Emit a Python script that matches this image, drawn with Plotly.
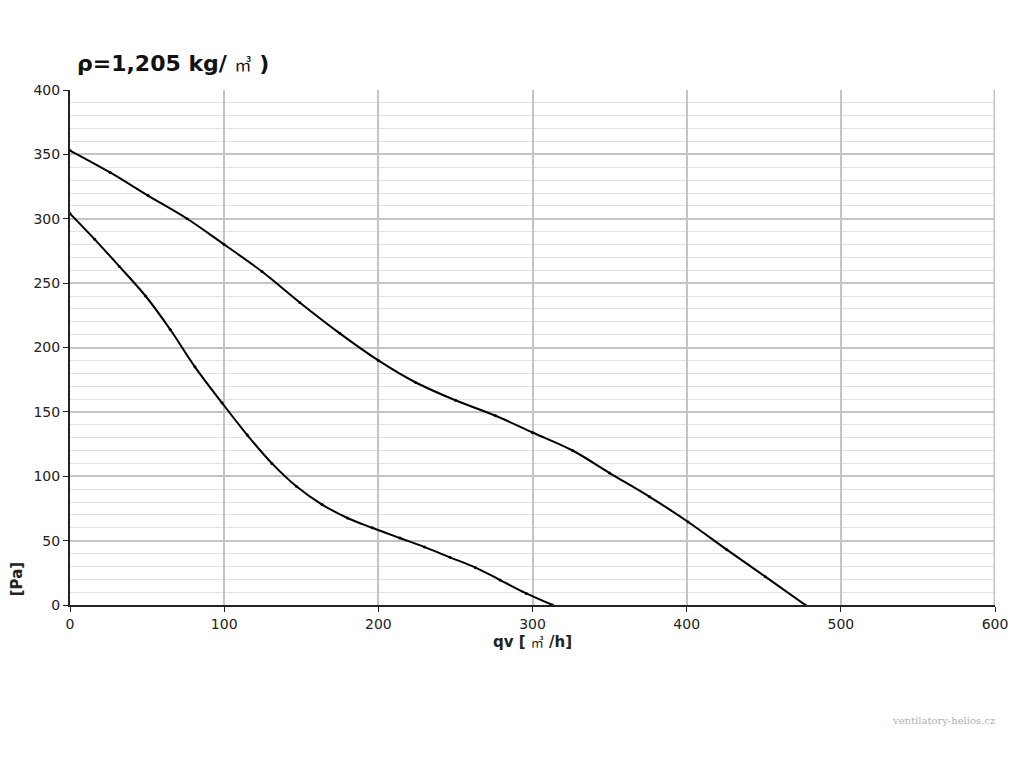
import plotly.graph_objects as go

# Upper curve (qv m3/h, Pa)
upper_q = [0, 26, 50.6, 76, 100, 124.5, 149, 175, 200, 224, 250, 276, 300, 326, 350, 376, 401, 426, 451, 477]
upper_p = [353, 336, 318, 300, 280, 259, 235, 211, 190, 173, 159, 147, 134, 120, 102.5, 84, 64.5, 43, 22, 0]

# Lower curve
lower_q = [0, 16, 32, 49, 65, 81, 98.6, 115, 131, 147, 163.5, 180, 196, 214, 230, 246.5, 263, 279, 296, 313]
lower_p = [304, 284, 263, 240, 214, 185, 157, 132, 110, 92, 78, 67.6, 60, 52, 45, 37, 29, 19.4, 9, 0]

x_ticks = [0, 100, 200, 300, 400, 500, 600]
y_ticks = [0, 50, 100, 150, 200, 250, 300, 350, 400]

fig = go.Figure()
for q, p in [(upper_q, upper_p), (lower_q, lower_p)]:
    fig.add_trace(go.Scatter(
        x=q, y=p, mode="lines+markers",
        line=dict(color="black", width=2, shape="spline", smoothing=1.0),
        marker=dict(color="black", size=3),
        showlegend=False, hoverinfo="skip"))

font_family = "DejaVu Sans, Verdana, sans-serif"
m3 = "<span style='font-family:Noto Sans CJK JP;font-weight:normal;font-size:{}px'>㎥</span>"

fig.update_layout(
    width=1024, height=768,
    margin=dict(l=62, r=37, t=82, b=171),
    paper_bgcolor="white", plot_bgcolor="white",
    font=dict(family=font_family, size=14, color="#222222"),
    xaxis=dict(
        range=[0, 600], tickvals=x_ticks, ticktext=[str(v) for v in x_ticks],
        showgrid=True, gridcolor="#c4c4c4", gridwidth=2,
        zeroline=False, showline=True, linecolor="#222222", linewidth=2,
        ticks="outside", ticklen=5, tickcolor="#222222",
        minor=dict(showgrid=False),
        title=dict(text="<b>qv [ " + m3.format(13) + " /h]</b>",
                   font=dict(size=15, color="#222222"), standoff=6),
        mirror=False,
    ),
    yaxis=dict(
        range=[0, 400], tickvals=y_ticks, ticktext=[str(v) for v in y_ticks],
        showgrid=True, gridcolor="#c4c4c4", gridwidth=2,
        zeroline=False, showline=True, linecolor="#222222", linewidth=2,
        ticks="outside", ticklen=5, tickcolor="#222222",
        minor=dict(dtick=10, showgrid=True, gridcolor="#e2e2e2", gridwidth=1, ticks=""),
    ),
    shapes=[
        dict(type="line", xref="x", yref="paper", x0=600, x1=600, y0=0, y1=1,
             line=dict(color="#c4c4c4", width=3)),
    ],
    annotations=[
        dict(text="<b>ρ=1,205 kg/ " + m3.format(17) + " )</b>",
             xref="paper", yref="paper", x=0, y=1.0, xshift=5, yshift=27,
             xanchor="left", yanchor="middle", showarrow=False,
             font=dict(size=22, color="#111111")),
        dict(text="<b>[Pa]</b>", xref="paper", yref="paper", x=0, y=0.05,
             xshift=-53, textangle=-90, showarrow=False,
             xanchor="center", yanchor="middle",
             font=dict(size=15, color="#222222")),
        dict(text="ventilatory-helios.cz", xref="paper", yref="paper",
             x=1.0, y=0, xshift=2, yshift=-115, xanchor="right", yanchor="middle",
             showarrow=False,
             font=dict(family="DejaVu Serif, serif", size=10, color="#b0b0b0")),
    ],
)

fig.write_html("out.html")
